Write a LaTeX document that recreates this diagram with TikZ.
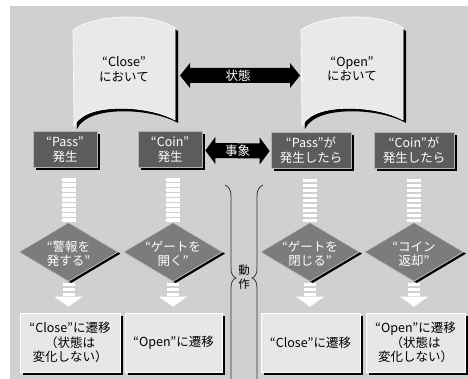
\documentclass[tikz,border=0pt]{standalone}
\usepackage{fontspec}
\setmainfont{Noto Sans CJK JP}
\usetikzlibrary{shapes.geometric,shadows,calc}
\definecolor{bg}{RGB}{208,208,208}
\definecolor{docfill}{RGB}{233,233,233}
\definecolor{evfill}{RGB}{92,92,92}
\definecolor{dmfill}{RGB}{124,124,124}
\definecolor{resfill}{RGB}{231,231,231}
\definecolor{bracecol}{RGB}{50,50,50}
\newcommand\dblarrow[4]{% start, end, head half height, shaft half height
  \fill[black] (#1) -- ++(10,-#3) -- ++(0,#3-#4) -- ($(#2)+(-10,-#4)$) -- ++(0,#4-#3) -- (#2)
    -- ++(-10,#3) -- ++(0,#4-#3) -- ($(#1)+(10,#4)$) -- ++(0,#3-#4) -- cycle;}
\begin{document}
\begin{tikzpicture}[x=1pt,y=-1pt,
  font=\fontsize{12.5}{14.5}\selectfont,
  blkshadow/.style={drop shadow={shadow xshift=3pt, shadow yshift=-3pt, fill=black, opacity=1}},
  evbox/.style={rectangle, fill=evfill, draw=black!30, line width=0.7pt, text=white,
    align=center, inner sep=0pt, minimum height=36pt, blkshadow},
  resbox/.style={rectangle, fill=resfill, draw=white, line width=0.6pt, align=center,
    inner sep=0pt, minimum height=59pt, blkshadow},
  dshape/.style={diamond, fill=dmfill, draw=white!80!black, line width=0.6pt, inner sep=0pt,
    minimum width=99pt, minimum height=59pt,
    drop shadow={shadow xshift=2.6pt, shadow yshift=-1.6pt, fill=black, opacity=1}},
  dtext/.style={text=white, align=center, inner sep=0pt},
  doctext/.style={align=center, inner sep=0pt},
  docstyle/.style={fill=docfill, draw=white, line width=0.6pt, blkshadow},
  ustripe/.style={draw=white, line width=14pt, dash pattern=on 3.6pt off 1.4pt},
  lstripe/.style={draw=white, line width=12pt, dash pattern=on 3.2pt off 1.8pt},
  brace/.style={draw=bracecol, line width=0.8pt},
  lbl/.style={text=white, inner sep=0pt}]
\fill[white] (0,0) rectangle (468,379);
\useasboundingbox (0,0) rectangle (468,379);
\fill[bg] (10,6) rectangle (468,379);

% documents (states)
\path[docstyle] (73,30) .. controls (95,14) and (152,12) .. (175,28) -- (175,120)
  .. controls (150,106) and (100,104) .. (82,117) .. controls (77,121) and (75,123) .. (74,126) -- cycle;
\begin{scope}[shift={(228,0)}]
\path[docstyle] (73,30) .. controls (95,14) and (152,12) .. (175,28) -- (175,120)
  .. controls (150,106) and (100,104) .. (82,117) .. controls (77,121) and (75,123) .. (74,126) -- cycle;
\end{scope}
\node[doctext] (close) at (124,69) {“Close”\\において};
\node[doctext] (open) at (352,69) {“Open”\\において};
\coordinate (closeR) at (180,75.5);
\coordinate (openL) at (300,75.5);

% events
\node[evbox, minimum width=64pt] (e1) at (65,149.5) {“Pass”\\発生};
\node[evbox, minimum width=64pt] (e2) at (170,149.5) {“Coin”\\発生};
\node[evbox, minimum width=80pt] (e3) at (311,150) {“Pass”が\\発生したら};
\node[evbox, minimum width=80pt] (e4) at (414,150) {“Coin”が\\発生したら};

% double arrows
\dblarrow{closeR}{openL}{12.5}{7.5}
\node[lbl] (state) at (238,76) {状態};
\coordinate (evL) at ($(e2.east)+(3,1)$);
\coordinate (evR) at ($(e3.west)+(-1,1)$);
\dblarrow{evL}{evR}{13.5}{7.5}
\node[lbl] (event) at (237.5,151) {事象};

% result boxes
\node[resbox, minimum width=100pt] (r1) at (70,342.5) {“Close”に遷移\\（状態は\\変化しない）};
\node[resbox, minimum width=97pt] (r2) at (173.5,342.5) {“Open”に遷移};
\node[resbox, minimum width=99pt] (r3) at (310.5,342.5) {“Close”に遷移};
\node[resbox, minimum width=99pt] (r4) at (415.5,342.5) {“Open”に遷移\\（状態は\\変化しない）};

% diamond positions (coordinates first, for the stripes)
\coordinate (p1) at (68.5,252);
\coordinate (p2) at (173,252);
\coordinate (p3) at (310,252);
\coordinate (p4) at (414,252);

% upper striped shafts
\foreach \i in {1,2,3,4}{
  \draw[ustripe] ($(e\i.south -| p\i)+(0,10.5)$) -- ($(p\i)+(0,-29)$);
}

% diamonds (actions)
\node[dshape] (d1) at (p1) {};
\node[dshape] (d2) at (p2) {};
\node[dshape] (d3) at (p3) {};
\node[dshape] (d4) at (p4) {};
\node[dtext] (t1) at ($(d1)+(0,2)$) {“警報を\\発する”};
\node[dtext] (t2) at ($(d2)+(0,2)$) {“ゲートを\\開く”};
\node[dtext] (t3) at ($(d3)+(0,2)$) {“ゲートを\\閉じる”};
\node[dtext] (t4) at ($(d4)+(0,2)$) {“コイン\\返却”};

% lower striped arrows
\foreach \i in {1,2,3,4}{
  \draw[lstripe] ($(d\i.south)+(0,1)$) -- ($(d\i.south |- r\i.north)+(0,-15.5)$);
  \fill[white] ($(d\i.south |- r\i.north)+(-14,-16)$) -- ($(d\i.south |- r\i.north)+(14,-16)$)
     -- ($(d\i.south |- r\i.north)+(0,-6)$) -- cycle;
}

% braces
\draw[brace] (225,185) .. controls (229,187) and (231,190) .. (231,196) -- (231,268)
  .. controls (231,274) and (233,277) .. (236,278) .. controls (233,279) and (231,282) .. (231,288) -- (231,379);
\draw[brace] (263,185) .. controls (259,187) and (257,190) .. (257,196) -- (257,268)
  .. controls (257,274) and (255,277) .. (252,278) .. controls (255,279) and (257,282) .. (257,288) -- (257,379);
\node[align=center, inner sep=0pt, font=\fontsize{11.5}{14}\selectfont] (act) at (244,277.5) {動\\作};
\end{tikzpicture}
\end{document}
